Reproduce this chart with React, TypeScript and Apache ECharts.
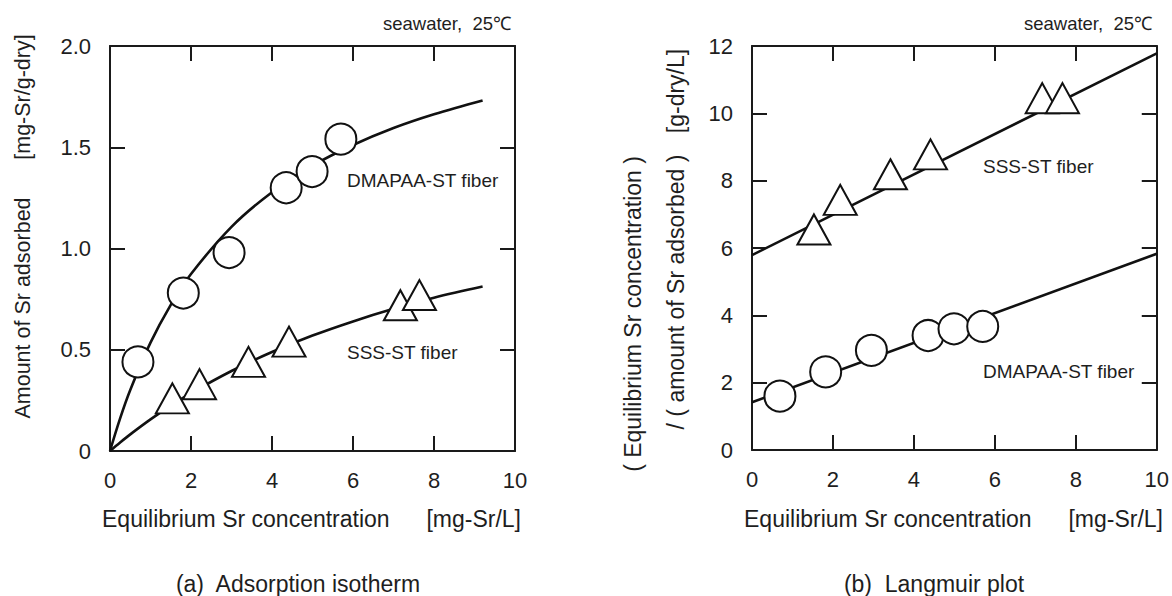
import React, { useEffect, useRef } from "react";
import * as echarts from "echarts";

// ---------- data ----------
// (a) Adsorption isotherm: measured points
const isoDmapaaX = [0.69, 1.81, 2.94, 4.35, 4.99, 5.7];
const isoDmapaaY = [0.44, 0.78, 0.98, 1.3, 1.38, 1.54];
const isoSssX = [1.54, 2.21, 3.42, 4.42, 7.17, 7.64];
const isoSssY = [0.26, 0.33, 0.44, 0.54, 0.72, 0.77];
// (a) fitted curves
const isoFitC = [0, 0.25, 0.5, 1, 1.5, 2, 3, 4, 5, 6, 7, 8, 9.2];
const isoFitDmapaa = [0, 0.161, 0.301, 0.535, 0.722, 0.874, 1.107, 1.278, 1.409, 1.511, 1.595, 1.663, 1.731];
const isoFitSss = [0, 0.042, 0.082, 0.156, 0.224, 0.286, 0.395, 0.489, 0.57, 0.64, 0.702, 0.757, 0.812];

// (b) Langmuir plot: measured points
const lpDmapaaX = [0.69, 1.82, 2.95, 4.35, 4.99, 5.7];
const lpDmapaaY = [1.6, 2.32, 2.96, 3.4, 3.6, 3.67];
const lpSssX = [1.53, 2.18, 3.42, 4.41, 7.17, 7.67];
const lpSssY = [6.55, 7.43, 8.19, 8.78, 10.45, 10.45];
// (b) fitted lines
const lpFitC = [0, 10];
const lpFitDmapaa = [1.42, 5.83];
const lpFitSss = [5.79, 11.78];

// axis ranges / ticks
const xRange = [0, 10];
const xStep = 2;
const isoYRange = [0, 2];
const isoYStep = 0.5;
const lpYRange = [0, 12];
const lpYStep = 2;

// texts
const conditionText = "seawater,  25\u2103";
const xTitle = "Equilibrium Sr concentration";
const xUnit = "[mg-Sr/L]";
const isoYTitle = "Amount of Sr adsorbed";
const isoYUnit = "[mg-Sr/g-dry]";
const lpYTitle1 = "( Equilibrium Sr concentration )";
const lpYTitle2 = "/ ( amount of Sr adsorbed )";
const lpYUnit = "[g-dry/L]";
const dmapaaLabel = "DMAPAA-ST fiber";
const sssLabel = "SSS-ST fiber";
const captionA = "(a)  Adsorption isotherm";
const captionB = "(b)  Langmuir plot";

// ---------- style ----------
const AXIS_COLOR = "#1a1a1a";
const TEXT_COLOR = "#1e1e1e";
const FONT = '"Liberation Sans", Arial, Helvetica, sans-serif';

const zip = (xs: number[], ys: number[]) => xs.map((x, i) => [x, ys[i]]);

function App() {
  const ref = useRef<HTMLDivElement>(null);

  useEffect(() => {
    if (!ref.current) return;
    const chart = echarts.init(ref.current, null, { renderer: "svg" });

    const lineStyle = { color: AXIS_COLOR, width: 2 };
    const mkX = (gridIndex: number, position: "bottom" | "top") => ({
      type: "value",
      gridIndex,
      position,
      min: xRange[0],
      max: xRange[1],
      interval: xStep,
      axisLine: { show: true, onZero: false, lineStyle },
      axisTick: { show: true, inside: true, length: 15, lineStyle },
      axisLabel: {
        show: position === "bottom",
        fontSize: 22,
        margin: 18,
        color: TEXT_COLOR,
        fontFamily: FONT,
      },
      splitLine: { show: false },
    });
    const mkY = (
      gridIndex: number,
      position: "left" | "right",
      range: number[],
      step: number,
      fmt: (v: number) => string
    ) => ({
      type: "value",
      gridIndex,
      position,
      min: range[0],
      max: range[1],
      interval: step,
      axisLine: { show: true, onZero: false, lineStyle },
      axisTick: { show: true, inside: true, length: 15, lineStyle },
      axisLabel: {
        show: position === "left",
        fontSize: 22,
        margin: 19,
        color: TEXT_COLOR,
        fontFamily: FONT,
        formatter: fmt,
      },
      splitLine: { show: false },
    });

    const isoFmt = (v: number) => (v === 0 ? "0" : v.toFixed(1));
    const lpFmt = (v: number) => String(v);

    const curve = (xi: number, yi: number, data: number[][]) => ({
      type: "line",
      xAxisIndex: xi,
      yAxisIndex: yi,
      data,
      smooth: 0.35,
      showSymbol: false,
      symbol: "none",
      lineStyle: { color: "#111", width: 2.6 },
      z: 2,
      silent: true,
    });
    const marks = (xi: number, yi: number, data: number[][], kind: "circle" | "triangle") => ({
      type: "scatter",
      xAxisIndex: xi,
      yAxisIndex: yi,
      data,
      symbol: kind,
      symbolSize: kind === "circle" ? 31 : [33, 30],
      itemStyle: { color: "#ffffff", borderColor: "#111", borderWidth: 2, opacity: 1 },
      z: 5,
      silent: true,
    });

    const txt = (
      x: number,
      y: number,
      text: string,
      size: number,
      align: string,
      rotation = 0
    ) => ({
      type: "text",
      x,
      y,
      rotation,
      silent: true,
      style: {
        text,
        fill: TEXT_COLOR,
        font: `${size}px ${FONT}`,
        fontSize: size,
        fontFamily: FONT,
        textAlign: align,
        align,
        textVerticalAlign: "middle",
        verticalAlign: "middle",
      },
    });

    const R = Math.PI / 2;

    chart.setOption({
      animation: false,
      backgroundColor: "#ffffff",
      grid: [
        { left: 110, top: 46, width: 405, height: 405 },
        { left: 752, top: 46, width: 405, height: 404 },
      ],
      xAxis: [mkX(0, "bottom"), mkX(0, "top"), mkX(1, "bottom"), mkX(1, "top")],
      yAxis: [
        mkY(0, "left", isoYRange, isoYStep, isoFmt),
        mkY(0, "right", isoYRange, isoYStep, isoFmt),
        mkY(1, "left", lpYRange, lpYStep, lpFmt),
        mkY(1, "right", lpYRange, lpYStep, lpFmt),
      ],
      series: [
        curve(0, 0, zip(isoFitC, isoFitDmapaa)),
        curve(0, 0, zip(isoFitC, isoFitSss)),
        marks(0, 0, zip(isoDmapaaX, isoDmapaaY), "circle"),
        marks(0, 0, zip(isoSssX, isoSssY), "triangle"),
        curve(2, 2, zip(lpFitC, lpFitDmapaa)),
        curve(2, 2, zip(lpFitC, lpFitSss)),
        marks(2, 2, zip(lpDmapaaX, lpDmapaaY), "circle"),
        marks(2, 2, zip(lpSssX, lpSssY), "triangle"),
      ],
      graphic: [
        txt(511, 23, conditionText, 18.5, "right"),
        txt(1152, 23, conditionText, 18.5, "right"),
        // x titles
        txt(102, 519, xTitle, 23, "left"),
        txt(521, 519, xUnit, 23, "right"),
        txt(744, 519, xTitle, 23, "left"),
        txt(1163, 519, xUnit, 23, "right"),
        // y titles (a)
        txt(23, 308, isoYTitle, 21.5, "center", R),
        txt(23, 97, isoYUnit, 21.5, "center", R),
        // y titles (b)
        txt(633, 314, lpYTitle1, 23, "center", R),
        txt(676, 292, lpYTitle2, 23, "center", R),
        txt(676, 91, lpYUnit, 23, "center", R),
        // series labels
        txt(347, 180, dmapaaLabel, 19, "left"),
        txt(347, 352, sssLabel, 19, "left"),
        txt(983, 166, sssLabel, 19, "left"),
        txt(983, 371, dmapaaLabel, 19, "left"),
        // captions
        txt(298, 584, captionA, 23, "center"),
        txt(934, 584, captionB, 23, "center"),
      ],
    });

    return () => chart.dispose();
  }, []);

  return (
    <div
      ref={ref}
      style={{ position: "absolute", left: 0, top: 0, width: 1172, height: 596, background: "#fff" }}
    />
  );
}

export default App;
